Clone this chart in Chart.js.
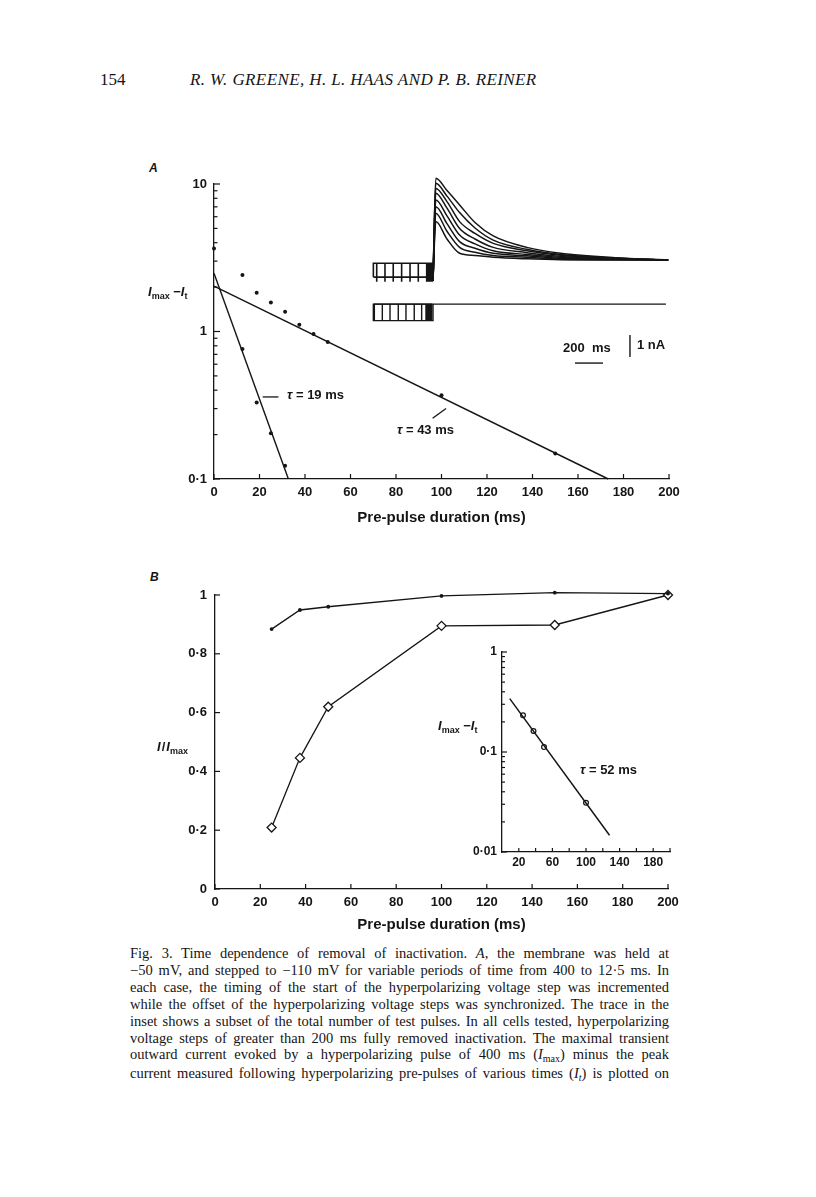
<!DOCTYPE html>
<html>
<head>
<meta charset="utf-8">
<script src="https://cdn.jsdelivr.net/npm/chart.js@4.4.0/dist/chart.umd.min.js"></script>
<style>
  body { margin: 0; background: #fff; }
  #page { position: relative; width: 816px; height: 1197px; overflow: hidden; color: #151515;
          font-family: 'Liberation Sans', Arial, sans-serif; }
  .box { position: absolute; }
  .lab { position: absolute; white-space: nowrap; font-weight: bold; font-size: 13px; line-height: 1; }
  .lab i { font-style: italic; }
  .sub { font-size: 9px; position: relative; top: 3px; }
  .serif { position: absolute; white-space: nowrap; font-family: 'Liberation Serif', serif; }
  #caption { position: absolute; left: 130px; top: 945px; width: 539px;
             font-family: 'Liberation Serif', serif; font-size: 14.5px; line-height: 16.9px; }
  #caption div { white-space: nowrap; text-align: justify; text-align-last: justify; }
  #caption .s { font-size: 10px; position: relative; top: 3px; }
</style>
</head>
<body>
<div id="page">
  <div class="serif" style="left:100px;top:70px;font-size:17px;">154</div>
  <div class="serif" style="left:190px;top:70px;font-size:17px;font-style:italic;letter-spacing:0.4px;">R. W. GREENE, H. L. HAAS AND P. B. REINER</div>

  <div class="lab" style="left:149px;top:162px;font-size:12px;font-style:italic;">A</div>
  <div class="lab" style="left:150px;top:571px;font-size:12px;font-style:italic;">B</div>

  <div class="box" style="left:140px;top:160px;"><canvas id="chartA" width="560" height="380"></canvas></div>
  <div class="box" style="left:360px;top:160px;"><canvas id="insetA" width="320" height="210"></canvas></div>
  <div class="box" style="left:140px;top:580px;"><canvas id="chartB" width="560" height="360"></canvas></div>
  <div class="box" style="left:430px;top:640px;"><canvas id="insetB" width="250" height="240"></canvas></div>

  <div class="lab" style="left:148px;top:285px;"><i>I</i><span class="sub">max</span> &minus;<i>I</i><span class="sub">t</span></div>
  <div class="lab" style="left:287px;top:388px;"><i>&tau;</i> = 19 ms</div>
  <div class="lab" style="left:397px;top:423px;"><i>&tau;</i> = 43 ms</div>
  <div class="lab" style="left:563px;top:341px;">200&nbsp;&nbsp;ms</div>
  <div class="lab" style="left:637px;top:338px;">1 nA</div>

  <div class="lab" style="left:157px;top:740px;"><i>I</i><span style="margin:0 1px;">/</span><i>I</i><span class="sub">max</span></div>
  <div class="lab" style="left:438px;top:719px;"><i>I</i><span class="sub">max</span> &minus;<i>I</i><span class="sub">t</span></div>
  <div class="lab" style="left:580px;top:763px;"><i>&tau;</i> = 52 ms</div>

  <div id="caption">
    <div>Fig. 3. Time dependence of removal of inactivation. <i>A</i>, the membrane was held at</div>
    <div>&minus;50 mV, and stepped to &minus;110 mV for variable periods of time from 400 to 12&middot;5 ms. In</div>
    <div>each case, the timing of the start of the hyperpolarizing voltage step was incremented</div>
    <div>while the offset of the hyperpolarizing voltage steps was synchronized. The trace in the</div>
    <div>inset shows a subset of the total number of test pulses. In all cells tested, hyperpolarizing</div>
    <div>voltage steps of greater than 200 ms fully removed inactivation. The maximal transient</div>
    <div>outward current evoked by a hyperpolarizing pulse of 400 ms (<i>I</i><span class="s">max</span>) minus the peak</div>
    <div>current measured following hyperpolarizing pre-pulses of various times (<i>I<span class="s">t</span></i>) is plotted on</div>
  </div>
</div>

<script>
// ---- panel A: Imax - It (nA, log) vs pre-pulse duration (ms)
const aSlowDur = [0, 12.5, 18.75, 25, 31.25, 37.5, 43.75, 50, 100, 150];
const aSlowVal = [3.66, 2.42, 1.83, 1.57, 1.36, 1.11, 0.96, 0.85, 0.37, 0.149];
const aFastDur = [12.5, 18.75, 25, 31.25];
const aFastVal = [0.76, 0.33, 0.204, 0.123];
const aSlowFitDur = [0, 173.3];
const aSlowFitVal = [2.03, 0.1];
const aFastFitDur = [0, 32.7];
const aFastFitVal = [2.48, 0.1];
const aLead19Dur = [21.4, 28.3];
const aLead19Val = [0.36, 0.36];
const aLead43Dur = [96.1, 102];
const aLead43Val = [0.258, 0.301];
const aXTicks = [0, 20, 40, 60, 80, 100, 120, 140, 160, 180, 200];
const aYTicks = [0.1, 0.2, 0.3, 0.4, 0.5, 0.6, 0.7, 0.8, 0.9, 1, 2, 3, 4, 5, 6, 7, 8, 9, 10];
const aYLabelled = [0.1, 1, 10];

// ---- panel A inset: current traces (nA) vs time (ms), step at t = 0
const traceT = [0, 20, 100, 190, 300, 430, 670, 910, 1300, 1680];
const trace1 = [-0.9, 3.76, 3.2, 2.55, 1.75, 1.14, 0.62, 0.35, 0.15, 0.05];
const trace2 = [-0.9, 3.53, 2.95, 2.2, 1.5, 0.95, 0.53, 0.3, 0.13, 0.05];
const trace3 = [-0.9, 3.3, 2.7, 1.79, 1.25, 0.8, 0.47, 0.26, 0.12, 0.05];
const trace4 = [-0.9, 3.08, 2.4, 1.48, 1.0, 0.62, 0.38, 0.21, 0.1, 0.05];
const trace5 = [-0.9, 2.77, 2.05, 1.18, 0.78, 0.47, 0.3, 0.17, 0.09, 0.05];
const trace6 = [-0.9, 2.47, 1.7, 0.88, 0.58, 0.35, 0.24, 0.12, 0.08, 0.05];
const trace7 = [-0.9, 2.17, 1.35, 0.62, 0.4, 0.25, 0.17, 0.08, 0.06, 0.05];
const trace8 = [-0.9, 1.79, 1.0, 0.35, 0.25, 0.17, 0.1, 0.06, 0.05, 0.05];
const prePulseStart = -426;
const currStepT = [-402, -343, -284, -224, -164, -105, -45, -34, -24, -14, -6];
const currHold = -0.105, currFoot = -0.73, currTip = -0.94;
const voltStepT = [-419, -362, -307, -248, -193, -134, -81, -50, -42, -34, -26, -18, -10];
const voltHold = -1.96, voltLow = -2.71, voltEndT = 1664;
const barMsT = [1014, 1214], barMsV = -4.64;
const barNaT = 1407, barNaV = [-3.36, -4.36];

// ---- panel B: I/Imax vs pre-pulse duration (ms)
const bDur = [25, 37.5, 50, 100, 150, 200];
const bDots = [0.884, 0.949, 0.96, 0.997, 1.008, 1.005];
const bDiamonds = [0.209, 0.446, 0.62, 0.895, 0.898, 1.0];
const bXTicks = [0, 20, 40, 60, 80, 100, 120, 140, 160, 180, 200];
const bYTicks = [0, 0.2, 0.4, 0.6, 0.8, 1];

// ---- panel B inset: Imax - It (log) vs duration
const cDur = [25, 37.5, 50, 100];
const cVal = [0.233, 0.162, 0.112, 0.031];
const cFitDur = [9.2, 128];
const cFitVal = [0.342, 0.0147];
const cXTicks = [20, 40, 60, 80, 100, 120, 140, 160, 180, 200];
const cXLabelled = [20, 60, 100, 140, 180];
const cYTicks = [0.01, 0.02, 0.03, 0.04, 0.05, 0.06, 0.07, 0.08, 0.09, 0.1, 0.2, 0.3, 0.4, 0.5, 0.6, 0.7, 0.8, 0.9, 1];
const cYLabelled = [0.01, 0.1, 1];

const ink = '#151515';
const tickFont = { family: 'Liberation Sans', weight: 'bold', size: 13 };
const titleFont = { family: 'Liberation Sans', weight: 'bold', size: 15 };

function pts(xs, ys) { return xs.map((x, i) => ({ x: x, y: ys[i] })); }
function fmt(v) { return String(v).replace('.', '\u00b7'); }

// tick marks drawn inside the plot area, like the printed figure
const innerTicks = {
  id: 'innerTicks',
  afterDraw(chart, args, opts) {
    const ctx = chart.ctx;
    ctx.save();
    ctx.strokeStyle = ink;
    ctx.lineWidth = 1.2;
    Object.keys(opts.len || {}).forEach(id => {
      const s = chart.scales[id];
      const len = opts.len[id];
      s.ticks.forEach(t => {
        const l = t.label === '' ? len[1] : len[0];
        const p = s.getPixelForValue(t.value);
        ctx.beginPath();
        if (s.isHorizontal()) { ctx.moveTo(p, s.top); ctx.lineTo(p, s.top - l); }
        else { ctx.moveTo(s.right, p); ctx.lineTo(s.right + l, p); }
        ctx.stroke();
      });
    });
    ctx.restore();
  }
};

function axis(type, min, max, tickVals, labelled, pad, fit) {
  return {
    type: type, min: min, max: max,
    grid: { display: false, drawTicks: false },
    border: { display: true, color: ink, width: 1.3 },
    ticks: {
      autoSkip: false, maxRotation: 0, padding: pad, color: ink, font: tickFont,
      callback: v => (labelled === null || labelled.includes(v)) ? fmt(v) : ''
    },
    afterBuildTicks: s => { s.ticks = tickVals.map(v => ({ value: v })); },
    afterFit: fit
  };
}
function fitX(h) { return s => { s.height = h; s.paddingLeft = 0; s.paddingRight = 0; }; }
function fitY(w) { return s => { s.width = w; s.paddingTop = 0; s.paddingBottom = 0; }; }

const common = {
  responsive: false, animation: false, events: [],
  plugins: { legend: { display: false }, tooltip: { enabled: false } }
};

function line(data, width) {
  return { data: data, showLine: true, pointRadius: 0, borderColor: ink, borderWidth: width || 1.4, clip: false };
}
function dots(data, r) {
  return { data: data, showLine: false, pointRadius: r, backgroundColor: ink, borderWidth: 0, clip: false };
}

// panel A
const xA = axis('linear', 0, 200, aXTicks, null, 6, fitX(48));
xA.title = { display: true, text: 'Pre-pulse duration (ms)', color: ink, font: titleFont, padding: 0 };
new Chart(document.getElementById('chartA'), {
  type: 'scatter',
  data: { datasets: [
    line(pts(aSlowFitDur, aSlowFitVal)),
    line(pts(aFastFitDur, aFastFitVal)),
    line(pts(aLead19Dur, aLead19Val), 1.3),
    line(pts(aLead43Dur, aLead43Val), 1.3),
    dots(pts(aSlowDur, aSlowVal), 2),
    dots(pts(aFastDur, aFastVal), 2)
  ]},
  options: Object.assign({}, common, {
    layout: { padding: { left: 24, top: 24, right: 31, bottom: 13 } },
    plugins: Object.assign({}, common.plugins, { innerTicks: { len: { x: [5, 5], y: [6, 3.5] } } }),
    scales: { x: xA, y: axis('logarithmic', 0.1, 10, aYTicks, aYLabelled, 7, fitY(50)) }
  }),
  plugins: [innerTicks]
});

// panel A inset traces
const insetSets = [];
[trace1, trace2, trace3, trace4, trace5, trace6, trace7, trace8].forEach(tr => {
  insetSets.push({ data: pts(traceT, tr), showLine: true, pointRadius: 0, borderColor: ink, borderWidth: 1.5,
                   cubicInterpolationMode: 'monotone', clip: false });
});
const currBox = [{ x: prePulseStart, y: currFoot }, { x: prePulseStart, y: currHold }];
currStepT.forEach(t => { currBox.push({ x: t, y: currHold }, { x: t, y: currTip }, { x: t, y: currHold }); });
currBox.push({ x: 0, y: currHold });
const voltBox = [{ x: voltEndT, y: voltHold }, { x: prePulseStart, y: voltHold }, { x: prePulseStart, y: voltLow }, { x: 0, y: voltLow }, { x: 0, y: voltHold }];
const voltTicks = [];
voltStepT.forEach(t => { voltTicks.push({ x: t, y: voltHold }, { x: t, y: voltLow }, { x: t, y: voltHold }); });
insetSets.push(
  line(currBox, 1.6),
  line([{ x: prePulseStart, y: currFoot }, { x: 0, y: currFoot }], 1.8),
  line(voltBox, 1.4),
  line(voltTicks, 1.4),
  line([{ x: barMsT[0], y: barMsV }, { x: barMsT[1], y: barMsV }], 1.4),
  line([{ x: barNaT, y: barNaV[0] }, { x: barNaT, y: barNaV[1] }], 1.4)
);
new Chart(document.getElementById('insetA'), {
  type: 'scatter',
  data: { datasets: insetSets },
  options: Object.assign({}, common, {
    layout: { padding: 0 },
    scales: {
      x: { type: 'linear', display: false, min: -521.4, max: 1764.3 },
      y: { type: 'linear', display: false, min: -4.955, max: 4.591 }
    }
  })
});

// panel B
const xB = axis('linear', 0, 200, bXTicks, null, 6, fitX(45));
xB.title = { display: true, text: 'Pre-pulse duration (ms)', color: ink, font: titleFont, padding: 0 };
new Chart(document.getElementById('chartB'), {
  type: 'scatter',
  data: { datasets: [
    line(pts(bDur, bDots), 1.3),
    dots(pts(bDur, bDots), 1.9),
    { data: pts(bDur, bDiamonds), showLine: true, borderColor: ink, borderWidth: 1.3, pointStyle: 'rectRot',
      pointRadius: 4.5, pointBackgroundColor: '#fff', pointBorderColor: ink, pointBorderWidth: 1.3, clip: false }
  ]},
  options: Object.assign({}, common, {
    layout: { padding: { left: 25, top: 15, right: 32, bottom: 6 } },
    plugins: Object.assign({}, common.plugins, { innerTicks: { len: { x: [5, 5], y: [5, 5] } } }),
    scales: { x: xB, y: axis('linear', 0, 1, bYTicks, null, 8, fitY(50)) }
  }),
  plugins: [innerTicks]
});

// panel B inset
const xC = axis('linear', 0, 200, cXTicks, cXLabelled, 3, fitX(20));
xC.ticks.font = { family: 'Liberation Sans', weight: 'bold', size: 12 };
const yC = axis('logarithmic', 0.01, 1, cYTicks, cYLabelled, 5, fitY(50));
yC.ticks.font = { family: 'Liberation Sans', weight: 'bold', size: 12 };
new Chart(document.getElementById('insetB'), {
  type: 'scatter',
  data: { datasets: [
    line(pts(cFitDur, cFitVal), 1.5),
    { data: pts(cDur, cVal), showLine: false, pointRadius: 2.4, pointBackgroundColor: '#fff',
      pointBorderColor: ink, pointBorderWidth: 1.2, clip: false }
  ]},
  options: Object.assign({}, common, {
    layout: { padding: { left: 22, top: 12, right: 10, bottom: 8 } },
    plugins: Object.assign({}, common.plugins, { innerTicks: { len: { x: [4, 4], y: [5, 3] } } }),
    scales: { x: xC, y: yC }
  }),
  plugins: [innerTicks]
});
</script>
</body>
</html>
